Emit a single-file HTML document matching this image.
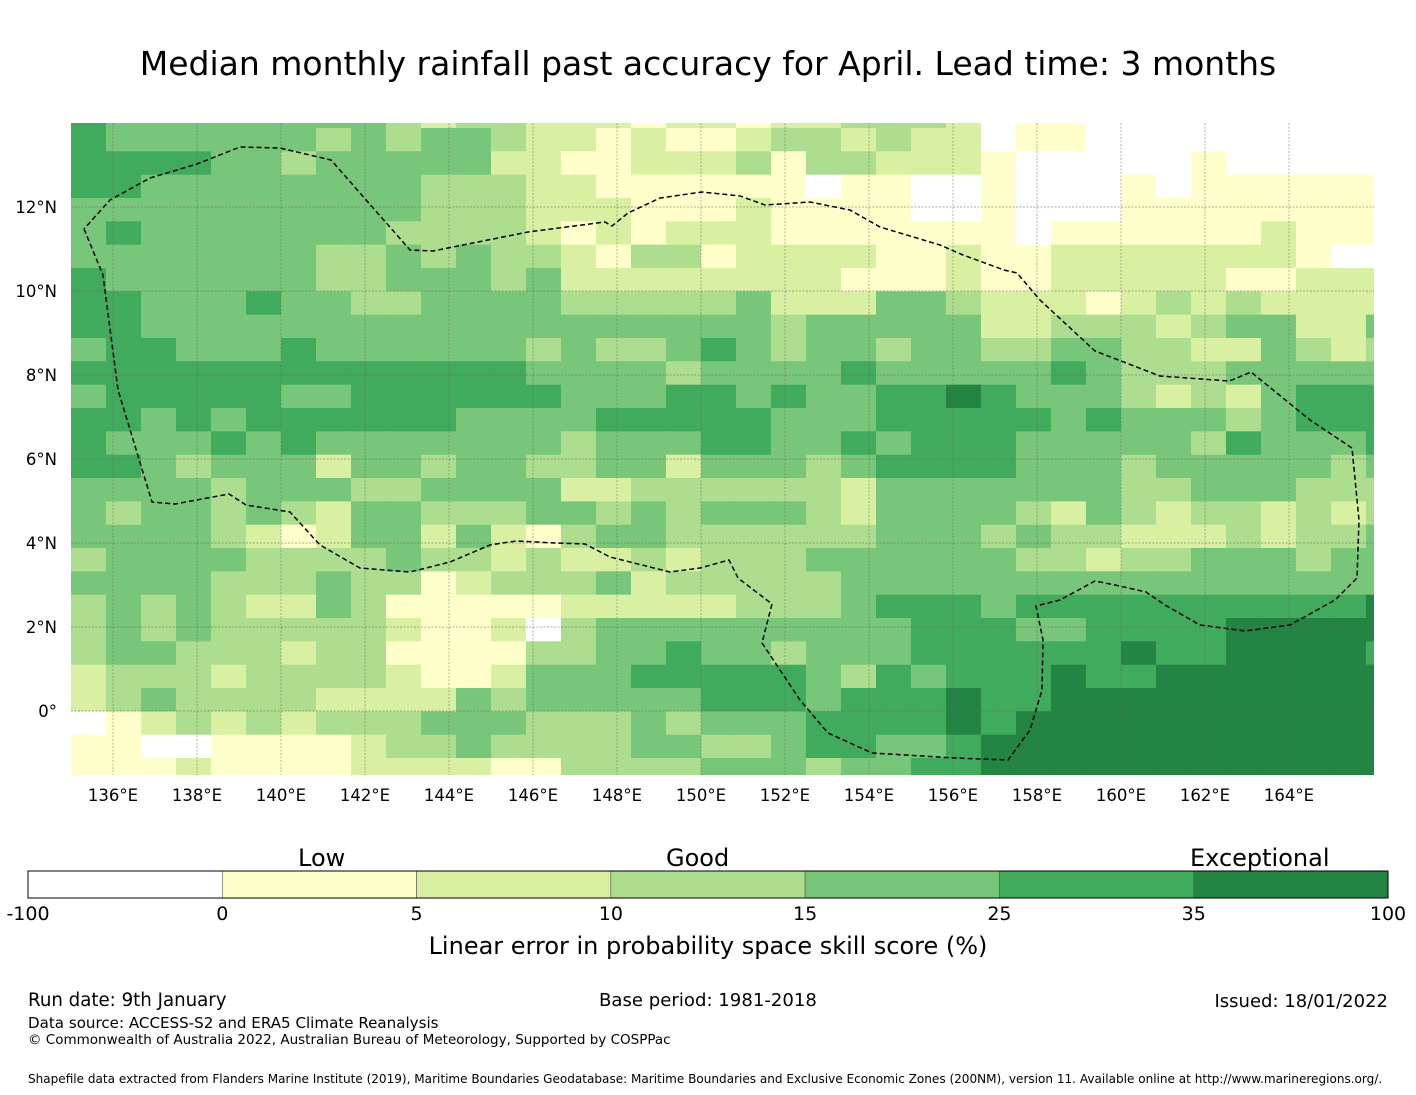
<!DOCTYPE html>
<html><head><meta charset="utf-8"><style>
body{margin:0;background:#fff;width:1416px;height:1095px;overflow:hidden;font-family:"Liberation Sans","DejaVu Sans",sans-serif;}
.t{position:absolute;white-space:nowrap;color:#000;}
</style></head><body>
<div class="t" style="left:0;width:1416px;text-align:center;top:44px;font-size:33px;font-family:'DejaVu Sans',sans-serif;">Median monthly rainfall past accuracy for April. Lead time: 3 months</div>
<svg id="map" width="1416" height="1095" style="position:absolute;left:0;top:0" xmlns="http://www.w3.org/2000/svg">
<defs><clipPath id="clip"><rect x="71" y="123" width="1303" height="652"/></clipPath></defs>
<g id="cells" clip-path="url(#clip)"></g>
<g id="grid" clip-path="url(#clip)"></g>
<g id="eez" clip-path="url(#clip)"></g>
<g id="ticks"></g>
<g id="cbar"></g>
</svg>
<div class="t" style="left:298px;top:844px;font-size:24px;font-family:'DejaVu Sans',sans-serif;">Low</div>
<div class="t" style="left:666px;top:844px;font-size:24px;font-family:'DejaVu Sans',sans-serif;">Good</div>
<div class="t" style="left:1190px;top:844px;font-size:24px;font-family:'DejaVu Sans',sans-serif;">Exceptional</div>
<div class="t" style="left:0;width:1416px;text-align:center;top:932px;font-size:24px;font-family:'DejaVu Sans',sans-serif;">Linear error in probability space skill score (%)</div>
<div class="t" style="left:28px;top:990px;font-size:18.2px;font-family:'DejaVu Sans',sans-serif;">Run date: 9th January</div>
<div class="t" style="left:599px;top:990px;font-size:18.1px;font-family:'DejaVu Sans',sans-serif;">Base period: 1981-2018</div>
<div class="t" style="right:28px;top:991px;font-size:18px;font-family:'DejaVu Sans',sans-serif;">Issued: 18/01/2022</div>
<div class="t" style="left:28px;top:1014px;font-size:15.1px;font-family:'DejaVu Sans',sans-serif;">Data source: ACCESS-S2 and ERA5 Climate Reanalysis</div>
<div class="t" style="left:28px;top:1032px;font-size:13.5px;font-family:'DejaVu Sans',sans-serif;">© Commonwealth of Australia 2022, Australian Bureau of Meteorology, Supported by COSPPac</div>
<div class="t" style="left:28px;top:1072px;font-size:12.05px;font-family:'DejaVu Sans',sans-serif;">Shapefile data extracted from Flanders Marine Institute (2019), Maritime Boundaries Geodatabase: Maritime Boundaries and Exclusive Economic Zones (200NM), version 11. Available online at http://www.marineregions.org/.</div>
<script>
const colors=["#ffffff","#ffffcc","#d9f0a3","#addd8e","#78c679","#41ab5d","#238443"];
const boundsLabels=["-100","0","5","10","15","25","35","100"];
const lonTicks=[136,138,140,142,144,146,148,150,152,154,156,158,160,162,164];
const latTicks=[0,2,4,6,8,10,12];
const lonStart=135.0, lonStep=0.8333, latTop=14.437, latStep=0.5556;
const gridRows=[
"5444444443233"+"2221221223332"+"011000000000",
"5444444343443"+"2212112332322"+"011000000000",
"5555443444442"+"2112223133222"+"100000100000",
"5544444444333"+"2211111101100"+"100010111111",
"4444444444333"+"2221112111100"+"100011111111",
"4544444443333"+"2121222111111"+"101111112111",
"4444444334343"+"3213312222112"+"112222222100",
"5444444334443"+"4222222221112"+"112222211222",
"5544454433444"+"4333334222443"+"222123232222",
"5544444444444"+"4444444344444"+"223332344224",
"4554445444444"+"3433454344344"+"334433224323",
"5555555555555"+"4444344445444"+"445433344444",
"4555554455555"+"5444554544556"+"544432324555",
"5545455555544"+"4455555444555"+"554544434555",
"5444545444444"+"4344455445455"+"544444354445",
"5543444244344"+"3344244434555"+"544434444434",
"4444344433444"+"4223333332444"+"444433444333",
"4344343244333"+"4434344432444"+"432432332323",
"4444321244242"+"1344333333444"+"343322232334",
"3444433334332"+"3223233344444"+"433233444344",
"4444333433123"+"3342333334444"+"444444444444",
"3434322431111"+"1222223334555"+"455555555556",
"3434333332112"+"0344444444455"+"544555566666",
"3443332331111"+"3344544344455"+"555565566665",
"2333233332112"+"4445555543545"+"556556666666",
"2343333222243"+"4444455545556"+"556666666666",
"0123232333444"+"3334344455556"+"566666666666",
"1100111123343"+"3334433455445"+"666666666666",
"1112111122221"+"1333344434455"+"666666666666"];
const NS="http://www.w3.org/2000/svg";
const X=lon=>113+(lon-136)*42;
const Y=lat=>207-(lat-12)*42;
const cells=document.getElementById('cells');
gridRows.forEach((row,r)=>{
  for(let c=0;c<row.length;c++){
    const v=+row[c];
    const x0=X(lonStart+c*lonStep),x1=X(lonStart+(c+1)*lonStep);
    const y0=Y(latTop-r*latStep),y1=Y(latTop-(r+1)*latStep);
    const el=document.createElementNS(NS,'rect');
    
    
    el.setAttribute('x',x0);el.setAttribute('y',y0);
    el.setAttribute('width',x1-x0+0.5);el.setAttribute('height',y1-y0+0.5);
    el.setAttribute('fill',colors[v]);
    cells.appendChild(el);
  }
});
const grid=document.getElementById('grid');
lonTicks.forEach(l=>{const e=document.createElementNS(NS,'line');


e.setAttribute('x1',X(l));e.setAttribute('x2',X(l));e.setAttribute('y1',123);e.setAttribute('y2',775);
e.setAttribute('stroke','#666');e.setAttribute('stroke-width','0.7');e.setAttribute('stroke-dasharray','2,1.5');e.setAttribute('opacity','0.7');grid.appendChild(e);});
latTicks.forEach(l=>{const e=document.createElementNS(NS,'line');


e.setAttribute('y1',Y(l));e.setAttribute('y2',Y(l));e.setAttribute('x1',71);e.setAttribute('x2',1374);
e.setAttribute('stroke','#666');e.setAttribute('stroke-width','0.7');e.setAttribute('stroke-dasharray','2,1.5');e.setAttribute('opacity','0.7');grid.appendChild(e);});
const eezPts=[[84,229],[103,275],[118,390],[152,502],[175,504],[229,494],[246,505],[290,512],[320,545],[360,568],[410,572],[450,562],[490,545],[516,541],[556,543],[585,544],[610,557],[670,572],[700,568],[729,560],[738,578],[772,604],[762,643],[800,700],[828,733],[872,753],[955,758],[1008,760],[1030,730],[1042,690],[1043,640],[1036,606],[1060,600],[1095,581],[1115,585],[1146,592],[1165,605],[1200,625],[1245,631],[1290,625],[1335,600],[1357,578],[1359,520],[1352,448],[1310,420],[1251,372],[1237,378],[1229,381],[1160,376],[1095,351],[1040,300],[1017,273],[1004,270],[963,255],[940,245],[880,227],[850,210],[810,202],[765,205],[740,196],[702,192],[660,198],[628,213],[612,226],[605,222],[528,232],[433,251],[410,250],[331,160],[280,148],[240,147],[197,164],[150,178],[110,200],[84,229]];
const p=document.createElementNS(NS,'path');


p.setAttribute('d','M'+eezPts.map(q=>q.join(',')).join('L'));
p.setAttribute('fill','none');p.setAttribute('stroke','#000');p.setAttribute('stroke-width','1.5');p.setAttribute('stroke-dasharray','5,3');
document.getElementById('eez').appendChild(p);
const ticks=document.getElementById('ticks');
lonTicks.forEach(l=>{const t=document.createElementNS(NS,'text');


t.setAttribute('x',X(l));t.setAttribute('y',801);t.setAttribute('text-anchor','middle');
t.setAttribute('font-size','16.5');t.setAttribute('font-family','DejaVu Sans, sans-serif');t.textContent=l+'°E';ticks.appendChild(t);});
latTicks.forEach(l=>{const t=document.createElementNS(NS,'text');


t.setAttribute('x',57);t.setAttribute('y',Y(l)+6);t.setAttribute('text-anchor','end');
t.setAttribute('font-size','16.5');t.setAttribute('font-family','DejaVu Sans, sans-serif');t.textContent=l===0?'0°':l+'°N';ticks.appendChild(t);});
const cb=document.getElementById('cbar');
const cbX=28,cbW=1360,seg=cbW/7;
colors.forEach((col,i)=>{const r=document.createElementNS(NS,'rect');


r.setAttribute('x',cbX+i*seg);r.setAttribute('y',871);r.setAttribute('width',seg);r.setAttribute('height',27);
r.setAttribute('fill',col);r.setAttribute('stroke','#555');r.setAttribute('stroke-width','0.6');cb.appendChild(r);});
const ob=document.createElementNS(NS,'rect');


ob.setAttribute('x',cbX);ob.setAttribute('y',871);ob.setAttribute('width',cbW);ob.setAttribute('height',27);ob.setAttribute('fill','none');ob.setAttribute('stroke','#000');ob.setAttribute('stroke-width','1');cb.appendChild(ob);
boundsLabels.forEach((s,i)=>{const t=document.createElementNS(NS,'text');


t.setAttribute('x',cbX+i*seg);t.setAttribute('y',920);t.setAttribute('text-anchor','middle');
t.setAttribute('font-size','19');t.setAttribute('font-family','DejaVu Sans, sans-serif');t.textContent=s;cb.appendChild(t);});
</script>
</body></html>
